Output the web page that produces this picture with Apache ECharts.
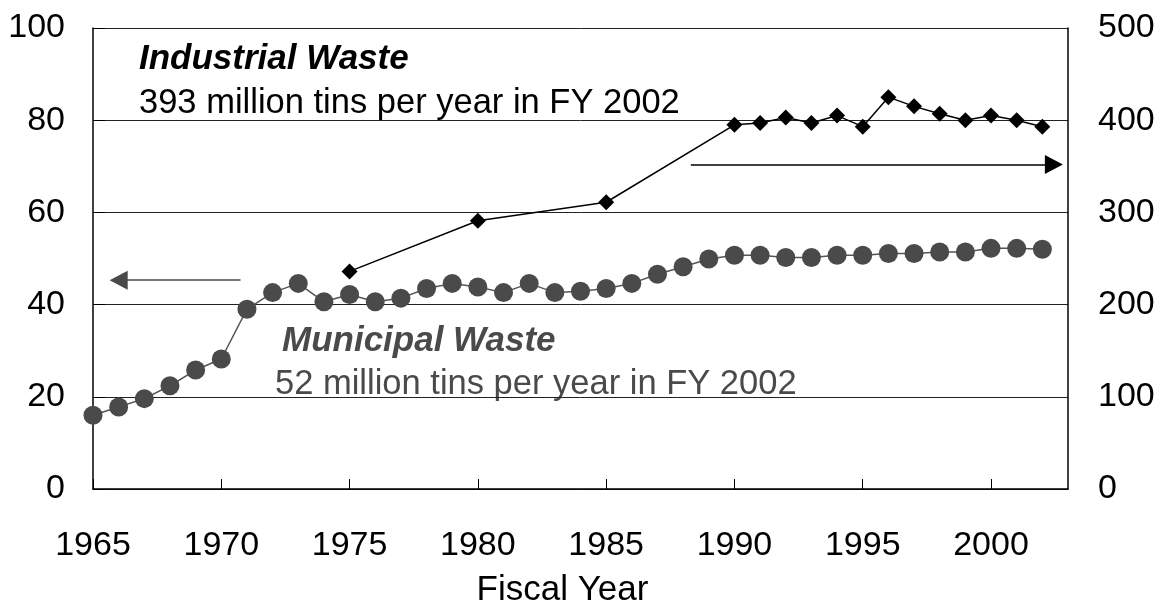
<!DOCTYPE html>
<html>
<head>
<meta charset="utf-8">
<script src="https://cdn.jsdelivr.net/npm/echarts@6/dist/echarts.min.js"></script>
<style>
  html, body { margin: 0; padding: 0; background: #fff; }
  #chart { width: 1158px; height: 604px; }
</style>
</head>
<body>
<div id="chart"></div>
<script>
// Municipal waste (million tons, left axis), every fiscal year 1965-2002
const municipalYears = [1965, 1966, 1967, 1968, 1969, 1970, 1971, 1972, 1973, 1974,
  1975, 1976, 1977, 1978, 1979, 1980, 1981, 1982, 1983, 1984,
  1985, 1986, 1987, 1988, 1989, 1990, 1991, 1992, 1993, 1994,
  1995, 1996, 1997, 1998, 1999, 2000, 2001, 2002];
const municipalValues = [16.0, 17.8, 19.6, 22.4, 25.8, 28.2, 39.0, 42.6, 44.6, 40.6,
  42.2, 40.6, 41.4, 43.5, 44.6, 43.8, 42.6, 44.6, 42.6, 42.9,
  43.5, 44.6, 46.6, 48.2, 49.9, 50.7, 50.7, 50.2, 50.2, 50.7,
  50.7, 51.1, 51.1, 51.4, 51.4, 52.2, 52.2, 52.0];

// Industrial waste (million tons, right axis)
const industrialYears = [1975, 1980, 1985, 1990, 1991, 1992, 1993, 1994, 1995,
  1996, 1997, 1998, 1999, 2000, 2001, 2002];
const industrialValues = [236, 291, 311, 395, 397, 403, 397, 405, 393,
  425, 415, 407, 400, 405, 400, 393];

const leftTicks = { min: 0, max: 100, interval: 20 };
const rightTicks = { min: 0, max: 500, interval: 100 };
const yearTicks = { min: 1965, max: 2003, interval: 5 };

const FONT = '"Liberation Sans", Arial, sans-serif';

const chart = echarts.init(document.getElementById('chart'), null, { renderer: 'canvas' });

const pair = (xs, ys) => xs.map((x, i) => [x, ys[i]]);

chart.setOption({
  animation: false,
  backgroundColor: '#fff',
  textStyle: { fontFamily: FONT },
  grid: { left: 93, right: 90, top: 28, bottom: 115, containLabel: false, outerBoundsMode: 'none' },
  xAxis: {
    type: 'value',
    min: yearTicks.min, max: yearTicks.max, interval: yearTicks.interval,
    name: 'Fiscal Year',
    nameLocation: 'middle',
    nameGap: 84,
    nameTextStyle: { fontSize: 35, color: '#000', fontFamily: FONT, padding: [0, 36, 0, 0] },
    axisLine: { show: true, lineStyle: { color: '#000', width: 1.5 } },
    axisTick: { show: true, inside: true, length: 10, lineStyle: { color: '#000', width: 1 } },
    axisLabel: {
      fontSize: 34, color: '#000', margin: 40, fontFamily: FONT,
      showMaxLabel: false,
      formatter: v => (v % 5 === 0 ? String(v) : '')
    },
    splitLine: { show: false }
  },
  yAxis: [
    {
      type: 'value',
      min: leftTicks.min, max: leftTicks.max, interval: leftTicks.interval,
      axisLine: { show: true, lineStyle: { color: '#000', width: 1.5 } },
      axisTick: { show: true, inside: true, length: 12, lineStyle: { color: '#000' } },
      axisLabel: { fontSize: 34, color: '#000', margin: 28, fontFamily: FONT },
      splitLine: { show: true, lineStyle: { color: '#222', width: 1 } }
    },
    {
      type: 'value',
      position: 'right',
      min: rightTicks.min, max: rightTicks.max, interval: rightTicks.interval,
      axisLine: { show: true, lineStyle: { color: '#000', width: 1.5 } },
      axisTick: { show: false },
      axisLabel: { fontSize: 34, color: '#000', margin: 30, fontFamily: FONT },
      splitLine: { show: false }
    }
  ],
  series: [
    {
      name: 'Municipal Waste',
      type: 'line',
      yAxisIndex: 0,
      data: pair(municipalYears, municipalValues),
      symbol: 'circle',
      symbolSize: 19,
      itemStyle: { color: '#4a4a4a' },
      lineStyle: { color: '#555', width: 1.5 },
      z: 3,
      markLine: {
        silent: true,
        symbol: ['none', 'triangle'],
        symbolSize: [19, 18],
        label: { show: false },
        lineStyle: { color: '#4a4a4a', width: 1.5, type: 'solid' },
        data: [[{ coord: [1970.75, 45.3] }, { coord: [1966.0, 45.3] }]]
      }
    },
    {
      name: 'Industrial Waste',
      type: 'line',
      yAxisIndex: 1,
      data: pair(industrialYears, industrialValues),
      symbol: 'diamond',
      symbolSize: 16,
      itemStyle: { color: '#000' },
      lineStyle: { color: '#000', width: 1.5 },
      z: 4,
      markLine: {
        silent: true,
        symbol: ['none', 'triangle'],
        symbolSize: [19, 18],
        label: { show: false },
        lineStyle: { color: '#000', width: 1.5, type: 'solid' },
        data: [[{ coord: [1988.3, 352] }, { coord: [2002.45, 352] }]]
      }
    }
  ],
  graphic: [
    {
      type: 'text', left: 139, top: 42,
      style: { text: 'Industrial Waste', font: 'italic bold 35px ' + FONT, fill: '#000' }
    },
    {
      type: 'text', left: 139, top: 86,
      style: { text: '393 million tins per year in FY 2002', font: '34.5px ' + FONT, fill: '#000' }
    },
    {
      type: 'text', left: 282, top: 324,
      style: { text: 'Municipal Waste', font: 'italic bold 35px ' + FONT, fill: '#4a4a4a' }
    },
    {
      type: 'text', left: 275, top: 367,
      style: { text: '52 million tins per year in FY 2002', font: '34.5px ' + FONT, fill: '#4a4a4a' }
    }
  ]
});
</script>
</body>
</html>
